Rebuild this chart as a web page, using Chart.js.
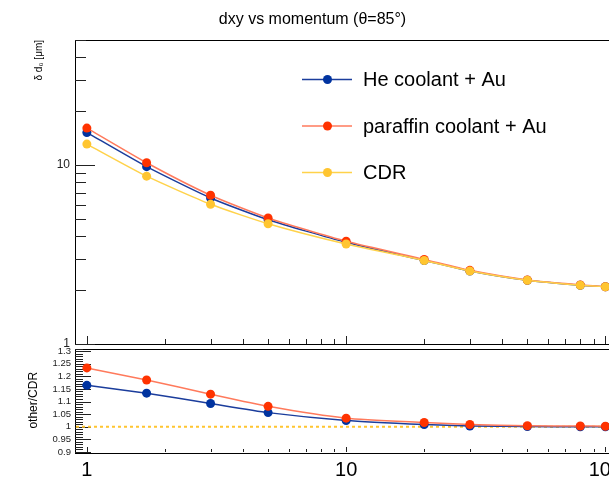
<!DOCTYPE html>
<html>
<head>
<meta charset="utf-8">
<script src="https://cdn.jsdelivr.net/npm/chart.js@4.4.0/dist/chart.umd.min.js"></script>
<style>
html, body { margin: 0; padding: 0; background: #fff; overflow: hidden; }
#wrap { position: relative; width: 609px; height: 479px; overflow: hidden; }
#top { position: absolute; left: 0; top: 0; }
#bottom { position: absolute; left: 0; top: 344px; }
</style>
</head>
<body>
<div id="wrap">
  <canvas id="top" width="640" height="352"></canvas>
  <canvas id="bottom" width="640" height="135"></canvas>
</div>
<script>
// DATA
const momentum = [1, 1.7, 3, 5, 10, 20, 30, 50, 80, 100];
const heAu = [15.2, 9.8, 6.55, 4.95, 3.70, 2.93, 2.56, 2.27, 2.13, 2.09];
const paraffinAu = [16.1, 10.3, 6.78, 5.06, 3.75, 2.97, 2.58, 2.28, 2.14, 2.09];
const cdr = [13.1, 8.67, 6.04, 4.70, 3.62, 2.93, 2.56, 2.27, 2.13, 2.09];
const heRatio = [1.164, 1.133, 1.092, 1.056, 1.025, 1.009, 1.003, 1.001, 1.0, 1.0];
const paraffinRatio = [1.233, 1.185, 1.129, 1.081, 1.034, 1.017, 1.009, 1.004, 1.003, 1.002];

const topYTicks = [1, 10];
const ratioTicks = [0.9, 0.95, 1, 1.05, 1.1, 1.15, 1.2, 1.25, 1.3];
const xTickLabels = [1, 10, 100];

const FONT = '"Liberation Sans", Arial, Helvetica, sans-serif';

// COLORS
const blue = { line: '#1b3d9c', mark: '#0033a0' };
const red = { line: '#ff7a5c', mark: '#ff3300' };
const yellow = { line: '#ffd24a', mark: '#ffc530' };

function pts(ys) {
    return momentum.map((m, i) => ({ x: m, y: ys[i] }));
}

function ds(label, ys, c) {
    return {
        label: label,
        data: pts(ys),
        borderColor: c.line,
        backgroundColor: c.mark,
        pointBackgroundColor: c.mark,
        pointBorderWidth: 0,
        pointRadius: 4.5,
        borderWidth: 1.5,
        tension: 0.2
    };
}

// ticks for log axes: decades plus 2..9 inside each one
function logTicks(lo, hi, majLen, minLen) {
    const out = [];
    for (let d = 1; d <= hi; d *= 10) {
        for (let k = 1; k <= 9; k++) {
            const v = d * k;
            if (v < lo || v > hi) continue;
            out.push({ v: v, len: k === 1 ? majLen : minLen });
        }
    }
    return out;
}

function linTicks(lo, hi, step, every, majLen, minLen) {
    const out = [];
    const n = Math.round((hi - lo) / step);
    for (let i = 0; i <= n; i++) {
        out.push({ v: lo + i * step, len: i % every === 0 ? majLen : minLen });
    }
    return out;
}

// frame + inward ticks (ROOT style)
function rootAxes(id, xTicks, yTicks, refLine) {
    return {
        id: id,
        beforeDatasetsDraw(chart) {
            const { ctx, chartArea: a, scales } = chart;
            ctx.save();
            ctx.strokeStyle = '#000';
            ctx.lineWidth = 1;
            ctx.strokeRect(Math.round(a.left) + 0.5, Math.round(a.top) + 0.5,
                Math.round(a.right - a.left), Math.round(a.bottom - a.top));
            ctx.strokeStyle = '#222';
            xTicks.forEach(t => {
                const px = Math.round(scales.x.getPixelForValue(t.v)) + 0.5;
                ctx.beginPath();
                ctx.moveTo(px, a.bottom);
                ctx.lineTo(px, a.bottom - t.len);
                ctx.stroke();
            });
            yTicks.forEach(t => {
                const py = Math.round(scales.y.getPixelForValue(t.v)) + 0.5;
                ctx.beginPath();
                ctx.moveTo(a.left, py);
                ctx.lineTo(a.left + t.len, py);
                ctx.stroke();
            });
            if (refLine !== undefined) {
                const py = scales.y.getPixelForValue(refLine);
                ctx.strokeStyle = yellow.mark;
                ctx.lineWidth = 2;
                ctx.setLineDash([3, 3]);
                ctx.beginPath();
                ctx.moveTo(a.left + 1, py);
                ctx.lineTo(a.right, py);
                ctx.stroke();
            }
            ctx.restore();
        }
    };
}

// legend drawn inside the frame
function rootLegend(x, y0, gap, items) {
    return {
        id: 'rootLegend',
        afterDraw(chart) {
            const ctx = chart.ctx;
            ctx.save();
            items.forEach((it, i) => {
                const y = y0 + i * gap;
                ctx.strokeStyle = it.c.line;
                ctx.lineWidth = 1.5;
                ctx.beginPath();
                ctx.moveTo(x, y);
                ctx.lineTo(x + 50, y);
                ctx.stroke();
                ctx.fillStyle = it.c.mark;
                ctx.beginPath();
                ctx.arc(x + 25.5, y, 4.5, 0, Math.PI * 2);
                ctx.fill();
                ctx.fillStyle = '#000';
                ctx.font = '20px ' + FONT;
                ctx.textBaseline = 'middle';
                ctx.fillText(it.text, x + 61, y + 1);
            });
            ctx.restore();
        }
    };
}

function fixWidth(w) {
    return function (scale) {
        scale.width = w;
        scale.paddingTop = 0;
        scale.paddingBottom = 0;
    };
}

// TOP PANEL
new Chart(document.getElementById('top'), {
    type: 'line',
    data: {
        datasets: [
            ds('CDR', cdr, yellow),
            ds('paraffin coolant + Au', paraffinAu, red),
            ds('He coolant + Au', heAu, blue)
        ]
    },
    options: {
        responsive: false,
        animation: false,
        events: [],
        layout: { padding: { left: 0, right: 15, top: 0, bottom: 8 } },
        plugins: {
            legend: { display: false },
            tooltip: { enabled: false },
            title: {
                display: true,
                text: 'dxy vs momentum (θ=85°)',
                color: '#000',
                font: { family: FONT, size: 16, weight: 'normal' },
                padding: { top: 10, bottom: 10.8 }
            }
        },
        scales: {
            x: {
                type: 'logarithmic',
                min: 0.9,
                max: 119,
                display: false
            },
            y: {
                type: 'logarithmic',
                min: 1,
                max: 50,
                grid: { display: false, drawTicks: false },
                border: { display: false },
                afterBuildTicks: (scale) => {
                    scale.ticks = topYTicks.map(v => ({ value: v }));
                },
                afterFit: fixWidth(75),
                ticks: {
                    padding: 5,
                    autoSkip: false,
                    color: '#222',
                    font: { family: FONT, size: 12 },
                    callback: (v) => String(v)
                },
                title: {
                    display: true,
                    text: 'δ d₀ [μm]',
                    align: 'end',
                    color: '#000',
                    font: { family: FONT, size: 10 },
                    padding: { top: 33, bottom: 0 }
                }
            }
        }
    },
    plugins: [
        rootAxes('frameTop', logTicks(0.9, 119, 8, 5), logTicks(1, 50, 20, 11)),
        rootLegend(302, 79.5, 46.5, [
            { text: 'He coolant + Au', c: blue },
            { text: 'paraffin coolant + Au', c: red },
            { text: 'CDR', c: yellow }
        ])
    ]
});

// RATIO PANEL
new Chart(document.getElementById('bottom'), {
    type: 'line',
    data: {
        datasets: [
            ds('paraffin coolant + Au', paraffinRatio, red),
            ds('He coolant + Au', heRatio, blue)
        ]
    },
    options: {
        responsive: false,
        animation: false,
        events: [],
        layout: { padding: { left: 0, right: 15, top: 3, bottom: 0 } },
        plugins: {
            legend: { display: false },
            tooltip: { enabled: false }
        },
        scales: {
            x: {
                type: 'logarithmic',
                min: 0.9,
                max: 119,
                grid: { display: false, drawTicks: false },
                border: { display: false },
                afterBuildTicks: (scale) => {
                    scale.ticks = xTickLabels.map(v => ({ value: v }));
                },
                afterFit: (scale) => {
                    scale.height = 27;
                    scale.paddingLeft = 0;
                    scale.paddingRight = 0;
                },
                ticks: {
                    padding: 6,
                    maxRotation: 0,
                    autoSkip: false,
                    color: '#000',
                    font: { family: FONT, size: 20 },
                    callback: (v) => String(v)
                }
            },
            y: {
                min: 0.9,
                max: 1.31,
                grid: { display: false, drawTicks: false },
                border: { display: false },
                afterBuildTicks: (scale) => {
                    scale.ticks = ratioTicks.map(v => ({ value: v }));
                },
                afterFit: fixWidth(75),
                ticks: {
                    padding: 4,
                    autoSkip: false,
                    color: '#222',
                    font: { family: FONT, size: 9.5 },
                    callback: (v) => String(parseFloat(v.toFixed(2)))
                },
                title: {
                    display: true,
                    text: 'other/CDR',
                    color: '#000',
                    font: { family: FONT, size: 12 },
                    padding: { top: 26, bottom: 0 }
                }
            }
        }
    },
    plugins: [rootAxes('frameRatio', logTicks(0.9, 119, 5, 3), linTicks(0.9, 1.31, 0.01, 5, 16, 8), 1)]
});
</script>
</body>
</html>
